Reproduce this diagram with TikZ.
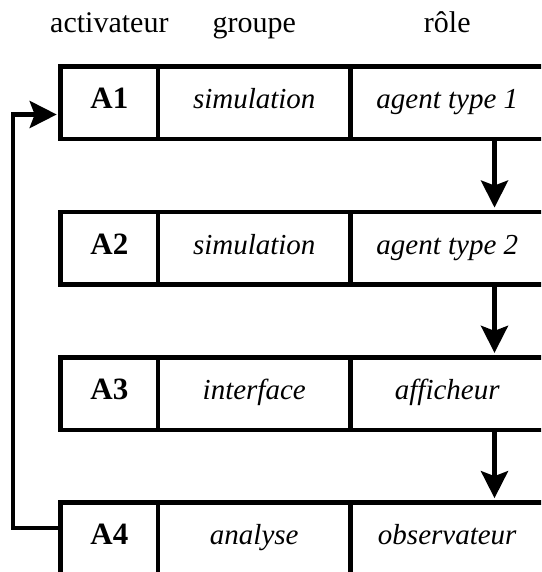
\documentclass[tikz,border=0pt]{standalone}
\usepackage{fontspec}
\setmainfont{Liberation Serif}
\usetikzlibrary{positioning,arrows.meta}

\tikzset{
  cell/.style={draw,line width=4.5pt,outer sep=0pt,inner sep=0pt,
    minimum height=72.5pt,text height=18pt,text depth=6pt},
  actcell/.style={cell,minimum width=97.3pt,font=\fontsize{31}{36}\selectfont\bfseries},
  grpcell/.style={cell,minimum width=192.5pt,font=\fontsize{29}{34}\selectfont\itshape},
  rolecell/.style={cell,minimum width=193.5pt,font=\fontsize{29}{34}\selectfont\itshape},
  head/.style={font=\fontsize{30}{36}\selectfont,text height=18pt,text depth=6pt},
  flow/.style={line width=4.5pt,-{Stealth[length=27pt,width=27pt,inset=5pt]}}
}

\begin{document}
\begin{tikzpicture}[x=1pt,y=-1pt]
  \useasboundingbox (0,0) rectangle (541,572);
  \clip (0,0) rectangle (541,572);

  % column titles
  \node[head] (hact) at (109.35,27) {activateur};
  \node[head] (hgrp) at (254.25,27) {groupe};
  \node[head] (hrole) at (447.25,27) {rôle};

  % rows
  \node[actcell] (a1) at (109.35,103) {A1};
  \node[grpcell,right=0pt of a1] (g1) {simulation};
  \node[rolecell,right=0pt of g1] (l1) {agent type 1};

  \node[actcell,below=72.8pt of a1] (a2) {A2};
  \node[grpcell,right=0pt of a2] (g2) {simulation};
  \node[rolecell,right=0pt of g2] (l2) {agent type 2};

  \node[actcell,below=72.8pt of a2] (a3) {A3};
  \node[grpcell,right=0pt of a3] (g3) {interface};
  \node[rolecell,right=0pt of g3] (l3) {afficheur};

  \node[actcell,below=72.8pt of a3] (a4) {A4};
  \node[grpcell,right=0pt of a4] (g4) {analyse};
  \node[rolecell,right=0pt of g4] (l4) {observateur};

  % activation order
  \draw[flow,shorten >=4.5pt] ([xshift=47.25pt]l1.south) -- ([xshift=47.25pt]l2.north);
  \draw[flow,shorten >=4.5pt] ([xshift=47.25pt]l2.south) -- ([xshift=47.25pt]l3.north);
  \draw[flow,shorten >=4.5pt] ([xshift=47.25pt]l3.south) -- ([xshift=47.25pt]l4.north);
  \draw[flow,shorten >=4pt] ([yshift=-25.25pt]a4.north west)
    -| ([xshift=-47.7pt,yshift=-11.5pt]a1.west) -- ([yshift=-11.5pt]a1.west);
\end{tikzpicture}
\end{document}
